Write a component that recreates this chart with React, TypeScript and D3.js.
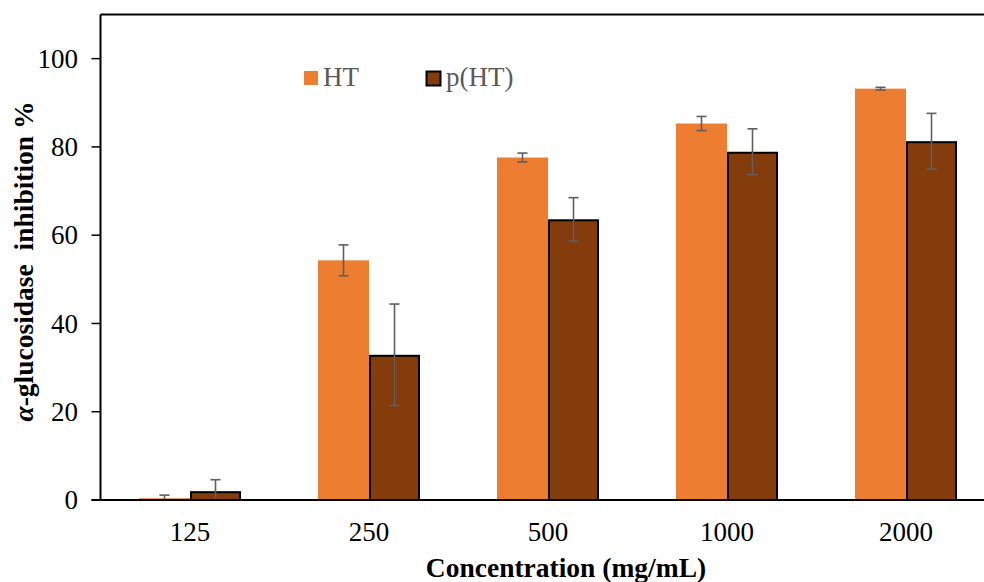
import React from "react";
import * as d3 from "d3";

// Concentrations tested (mg/mL)
const categories: string[] = ["125", "250", "500", "1000", "2000"];
const seriesNames: string[] = ["HT", "p(HT)"];

// Mean α-glucosidase inhibition (%) and standard deviations
const htValues: number[] = [0.4, 54.3, 77.6, 85.3, 93.2];
const htErrors: number[] = [0.7, 3.5, 1.0, 1.6, 0.3];
const pHtValues: number[] = [2.0, 32.9, 63.6, 78.9, 81.3];
const pHtErrors: number[] = [2.6, 11.5, 4.9, 5.2, 6.3];

const yTicks: number[] = [0, 20, 40, 60, 80, 100];

const W = 984;
const H = 582;
const left = 100.5;
const right = 995.5;
const top = 14.5;
const bottom = 500;

const colors: Record<string, string> = { HT: "#ED7D31", "p(HT)": "#843C0C" };
const font = "Liberation Serif";

export default function App() {
  const x0 = d3
    .scaleBand<string>()
    .domain(categories)
    .range([left, right])
    .paddingInner(0.43)
    .paddingOuter(0.215);
  const x1 = d3.scaleBand<string>().domain(seriesNames).range([0, x0.bandwidth()]).padding(0);
  const y = d3.scaleLinear().domain([0, 110]).range([bottom, top]);

  const series = [
    { name: "HT", values: htValues, errors: htErrors },
    { name: "p(HT)", values: pHtValues, errors: pHtErrors },
  ];

  const capHalf = 5;

  return (
    <svg
      width={W}
      height={H}
      style={{ position: "absolute", left: 0, top: 0, background: "#fff", fontFamily: font }}
    >
      {/* bars */}
      {series.map((s) =>
        categories.map((c, i) => {
          const bx = (x0(c) as number) + (x1(s.name) as number);
          const bw = x1.bandwidth();
          const yv = y(s.values[i]);
          const isP = s.name === "p(HT)";
          return (
            <rect
              key={s.name + c}
              x={isP ? bx + 1 : bx}
              y={isP ? yv + 1 : yv}
              width={isP ? bw - 2 : bw}
              height={Math.max(0, bottom - yv - (isP ? 1 : 0))}
              fill={colors[s.name]}
              stroke={isP ? "#000" : "none"}
              strokeWidth={isP ? 2 : 0}
            />
          );
        })
      )}

      {/* error bars (lower end stops at the axis) */}
      {series.map((s) =>
        categories.map((c, i) => {
          const cx = (x0(c) as number) + (x1(s.name) as number) + x1.bandwidth() / 2;
          const hi = s.values[i] + s.errors[i];
          const lo = s.values[i] - s.errors[i];
          const yHi = y(hi);
          const yLo = y(Math.max(0, lo));
          return (
            <g key={"e" + s.name + c} stroke="#5f5f5f" strokeWidth={1.6}>
              <line x1={cx} x2={cx} y1={yHi} y2={yLo} />
              <line x1={cx - capHalf} x2={cx + capHalf} y1={yHi} y2={yHi} />
              {lo > 0 && <line x1={cx - capHalf} x2={cx + capHalf} y1={yLo} y2={yLo} />}
            </g>
          );
        })
      )}

      {/* plot frame and axes */}
      <line x1={left} x2={right} y1={top} y2={top} stroke="#000" strokeWidth={2} />
      <line x1={left} x2={left} y1={top} y2={bottom} stroke="#000" strokeWidth={2} />
      <line x1={left - 9} x2={right} y1={bottom} y2={bottom} stroke="#000" strokeWidth={2.2} />

      {/* y ticks */}
      {yTicks.map((t) => (
        <g key={"yt" + t}>
          <line x1={left - 9} x2={left} y1={y(t)} y2={y(t)} stroke="#000" strokeWidth={1.5} />
          <text
            x={78}
            y={y(t)}
            dy="0.34em"
            textAnchor="end"
            fontSize={27}
            fontFamily={font}
            fill="#000"
          >
            {t}
          </text>
        </g>
      ))}

      {/* x tick labels */}
      {categories.map((c) => (
        <text
          key={"xt" + c}
          x={(x0(c) as number) + x0.bandwidth() / 2}
          y={541}
          textAnchor="middle"
          fontSize={27}
          fontFamily={font}
          fill="#000"
        >
          {c}
        </text>
      ))}

      {/* axis titles */}
      <text
        x={566}
        y={577}
        textAnchor="middle"
        fontSize={27.5}
        fontWeight="bold"
        fontFamily={font}
        fill="#000"
      >
        Concentration (mg/mL)
      </text>
      <text
        transform="translate(33,261.5) rotate(-90)"
        textAnchor="middle"
        fontSize={27.5}
        fontWeight="bold"
        fontFamily={font}
        fill="#000"
        style={{ whiteSpace: "pre" }}
      >
        <tspan fontStyle="italic">α</tspan>
        {"-glucosidase\u00A0 inhibition %"}
      </text>

      {/* legend */}
      <rect x={304} y={71} width={14} height={14} fill={colors["HT"]} />
      <text x={323} y={86} fontSize={27} fontFamily={font} fill="#595959">
        HT
      </text>
      <rect
        x={426.5}
        y={71.5}
        width={14}
        height={14}
        fill={colors["p(HT)"]}
        stroke="#000"
        strokeWidth={2}
      />
      <text x={446} y={86} fontSize={27} fontFamily={font} fill="#595959">
        p(HT)
      </text>
    </svg>
  );
}
